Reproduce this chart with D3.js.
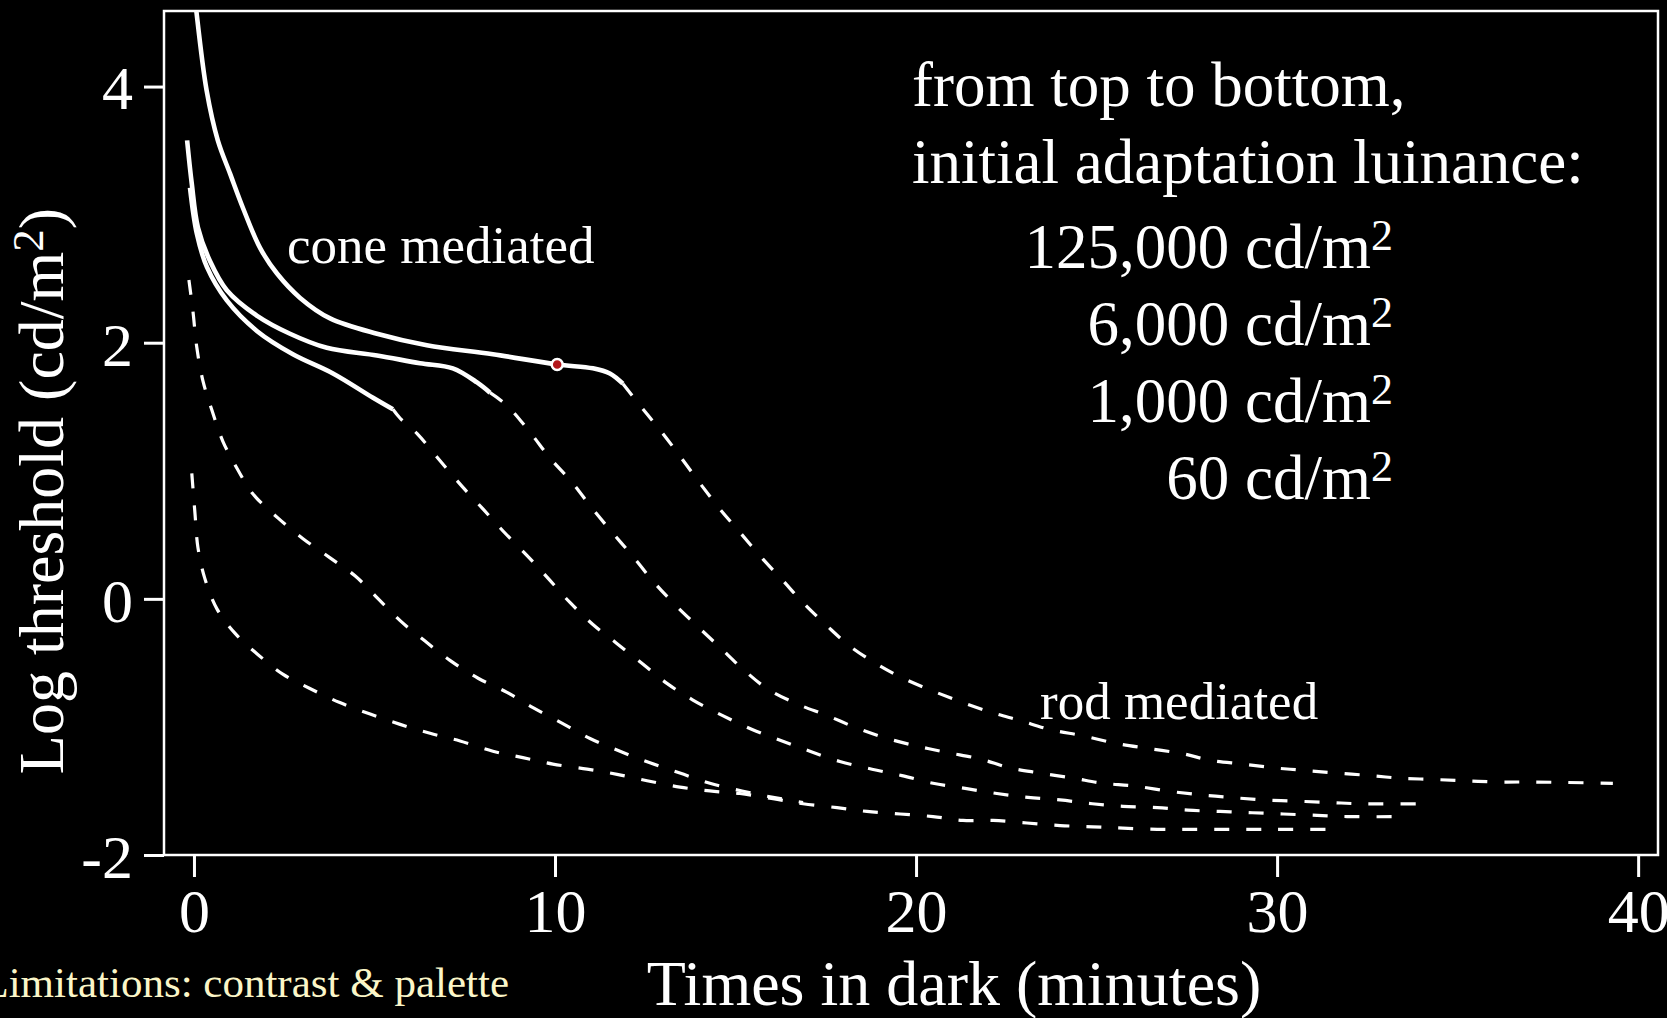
<!DOCTYPE html>
<html><head><meta charset="utf-8">
<script src="https://cdn.jsdelivr.net/npm/d3@7"></script>
<style>html,body{margin:0;padding:0;background:#000;overflow:hidden}</style>
</head><body><svg id="chart" width="1667" height="1018"></svg>
<script>
// ---------- data (time in dark, minutes ; log threshold, cd/m2) ----------
const xTicks = [0, 10, 20, 30, 40];
const yTicks = [-2, 0, 2, 4];
const legendHead = ["from top to bottom,", "initial adaptation luinance:"];
const luminanceLabels = ["125,000", "6,000", "1,000", "60"];

const cone125000 = [[0.02,4.72],[0.07,4.58],[0.35,3.97],[0.66,3.58],[1.0,3.32],[1.36,3.05],[1.83,2.74],[2.30,2.54],[2.94,2.35],[3.77,2.19],[5.07,2.07],[6.45,1.98],[8.28,1.91],[10.06,1.83],[11.05,1.80],[11.52,1.76],[11.88,1.68]];
const rod125000 = [[11.88,1.68],[12.44,1.48],[12.99,1.29],[13.55,1.08],[14.02,0.90],[14.57,0.70],[15.12,0.52],[15.76,0.31],[16.32,0.14],[16.87,-0.03],[17.53,-0.21],[18.17,-0.37],[18.92,-0.51],[19.64,-0.62],[20.47,-0.72],[21.30,-0.81],[22.13,-0.89],[22.88,-0.95],[23.71,-1.02],[24.63,-1.07],[25.57,-1.13],[26.48,-1.17],[27.40,-1.21],[28.14,-1.26],[29.06,-1.29],[29.94,-1.32],[30.78,-1.34],[31.66,-1.36],[32.58,-1.38],[33.41,-1.40],[34.32,-1.41],[35.21,-1.42],[36.09,-1.43],[37.01,-1.43],[39.30,-1.44]];

const cone6000 = [[-0.19,3.58],[-0.06,3.24],[0.11,2.90],[0.44,2.64],[0.91,2.41],[1.75,2.21],[2.66,2.07],[3.68,1.96],[5.07,1.90],[6.26,1.84],[7.17,1.80],[7.84,1.69],[8.20,1.61]];
const rod6000 = [[8.20,1.61],[8.67,1.51],[9.31,1.30],[9.86,1.10],[10.47,0.91],[11.02,0.71],[11.58,0.52],[12.13,0.34],[12.71,0.14],[13.27,-0.03],[13.93,-0.21],[14.57,-0.38],[15.21,-0.55],[15.87,-0.70],[16.70,-0.82],[17.53,-0.91],[18.37,-1.01],[19.20,-1.09],[20.03,-1.15],[20.86,-1.20],[21.77,-1.25],[22.60,-1.32],[23.43,-1.36],[24.35,-1.40],[25.18,-1.44],[26.01,-1.46],[26.95,-1.50],[27.87,-1.53],[28.70,-1.55],[29.61,-1.57],[30.55,-1.58],[31.47,-1.59],[32.30,-1.60],[33.95,-1.60]];

const cone1000 = [[-0.11,3.21],[0.08,2.85],[0.36,2.59],[0.91,2.33],[1.75,2.09],[2.74,1.91],[3.85,1.76],[4.96,1.57],[5.51,1.48]];
const rod1000 = [[5.51,1.48],[5.71,1.41],[6.18,1.29],[6.81,1.08],[7.42,0.88],[8.01,0.70],[8.56,0.53],[9.22,0.34],[9.81,0.16],[10.42,-0.03],[11.05,-0.20],[11.72,-0.35],[12.44,-0.51],[13.10,-0.66],[13.82,-0.79],[14.63,-0.91],[15.46,-1.02],[16.29,-1.11],[17.06,-1.19],[17.89,-1.27],[18.78,-1.33],[19.61,-1.38],[20.47,-1.44],[21.36,-1.48],[22.24,-1.52],[23.10,-1.55],[23.99,-1.57],[24.88,-1.60],[25.73,-1.62],[26.68,-1.63],[27.53,-1.65],[28.42,-1.66],[29.31,-1.67],[30.17,-1.68],[31.11,-1.69],[31.94,-1.70],[33.60,-1.70]];

const rodOnlyUpper = [[-0.14,2.49],[-0.03,2.25],[0.08,1.96],[0.25,1.70],[0.50,1.47],[0.80,1.23],[1.19,1.02],[1.63,0.82],[2.33,0.63],[3.02,0.47],[3.77,0.32],[4.46,0.18],[5.07,0.01],[5.71,-0.17],[6.40,-0.33],[7.09,-0.48],[7.87,-0.62],[8.67,-0.73],[9.39,-0.85],[10.19,-0.97],[10.97,-1.09],[11.80,-1.19],[12.63,-1.28],[13.46,-1.36],[14.29,-1.44],[15.18,-1.50],[16.04,-1.55],[16.87,-1.59]];

const rodOnlyLower = [[-0.06,0.98],[0.03,0.66],[0.11,0.40],[0.30,0.16],[0.64,-0.08],[1.14,-0.27],[1.75,-0.43],[2.47,-0.59],[3.21,-0.70],[4.04,-0.81],[4.88,-0.90],[5.71,-0.98],[6.54,-1.05],[7.37,-1.11],[8.28,-1.19],[9.11,-1.24],[9.94,-1.29],[10.89,-1.33],[11.72,-1.37],[12.55,-1.42],[13.46,-1.47],[14.29,-1.50],[15.12,-1.52],[16.04,-1.56],[16.87,-1.60],[17.81,-1.63],[18.64,-1.66],[19.56,-1.68],[20.47,-1.70],[21.30,-1.73],[22.13,-1.73],[23.07,-1.75],[23.99,-1.77],[24.90,-1.78],[25.73,-1.79],[26.68,-1.80],[27.53,-1.80],[28.42,-1.80],[29.31,-1.80],[30.17,-1.80],[31.40,-1.80]];

const highlightPoint = [[10.06, 1.83]];

// ---------- layout ----------
const svg = d3.select("#chart");
const W = 1667, H = 1018;
const plot = {left: 164, right: 1658, top: 11, bottom: 855};
const serif = "'Liberation Serif','Times New Roman',Times,serif";

svg.append("rect").attr("width", W).attr("height", H).attr("fill", "#000");

const x = d3.scaleLinear().domain([-0.83, 40.55]).range([plot.left, plot.right]);
const y = d3.scaleLinear().domain([-2, 4.59]).range([plot.bottom, plot.top]);

svg.append("defs").append("clipPath").attr("id", "clip")
  .append("rect").attr("x", plot.left).attr("y", plot.top)
  .attr("width", plot.right - plot.left).attr("height", plot.bottom - plot.top);

// axes
const plain = d => String(d);
const yAxis = d3.axisLeft(y).tickValues(yTicks).tickSize(20).tickSizeOuter(0).tickPadding(11).tickFormat(plain);
const gy = svg.append("g").attr("transform", `translate(${plot.left},0)`).call(yAxis);
const xAxis = d3.axisBottom(x).tickValues(xTicks).tickSize(22).tickSizeOuter(0).tickPadding(8).tickFormat(plain);
const gx = svg.append("g").attr("transform", `translate(0,${plot.bottom})`).call(xAxis);
[gx, gy].forEach(g => {
  g.select(".domain").remove();
  g.selectAll(".tick line").attr("stroke", "#fff").attr("stroke-width", 3);
  g.selectAll(".tick text").attr("fill", "#fff").attr("font-family", serif).attr("font-size", 62);
});
gy.selectAll(".tick text").attr("dy", "0.36em");
gx.selectAll(".tick text").attr("dy", "0.76em");

// frame
svg.append("rect").attr("x", plot.left).attr("y", plot.top)
  .attr("width", plot.right - plot.left).attr("height", plot.bottom - plot.top)
  .attr("fill", "none").attr("stroke", "#fff").attr("stroke-width", 2.5);

// curves
const line = d3.line().x(d => x(d[0])).y(d => y(d[1])).curve(d3.curveCatmullRom.alpha(0.5));
const g = svg.append("g").attr("clip-path", "url(#clip)");
const coneSeries = [cone125000, cone6000, cone1000];
const rodSeries = [rod125000, rod6000, rod1000, rodOnlyUpper, rodOnlyLower];

g.selectAll("path.rod").data(rodSeries).join("path").attr("class", "rod")
  .attr("d", line).attr("fill", "none").attr("stroke", "#fff")
  .attr("stroke-width", 3.2).attr("stroke-dasharray", "15,17");
g.selectAll("path.cone").data(coneSeries).join("path").attr("class", "cone")
  .attr("d", line).attr("fill", "none").attr("stroke", "#fff")
  .attr("stroke-width", 4.6).attr("stroke-linejoin", "round");

g.selectAll("circle.hl").data(highlightPoint).join("circle").attr("class", "hl")
  .attr("cx", d => x(d[0])).attr("cy", d => y(d[1])).attr("r", 5.5)
  .attr("fill", "#b3171b").attr("stroke", "#fff").attr("stroke-width", 2.5);

// annotations
const txt = (s, px, py, size, anchor, fill) => svg.append("text").attr("x", px).attr("y", py)
  .attr("font-family", serif).attr("font-size", size).attr("fill", fill || "#fff")
  .attr("text-anchor", anchor || "start").text(s);

txt("cone mediated", 287, 263, 53);
txt("rod mediated", 1040, 719, 53);

legendHead.forEach((s, i) => txt(s, 912, 106 + i * 77, 63));
luminanceLabels.forEach((s, i) => {
  const t = svg.append("text").attr("x", 1393).attr("y", 268 + i * 77)
    .attr("font-family", serif).attr("font-size", 63).attr("fill", "#fff").attr("text-anchor", "end");
  t.append("tspan").text(s + " cd/m");
  t.append("tspan").attr("font-size", 44).attr("dy", -18).text("2");
});

// axis titles
const yt = svg.append("text").attr("transform", "translate(63,491) rotate(-90)")
  .attr("font-family", serif).attr("font-size", 64).attr("fill", "#fff").attr("text-anchor", "middle");
yt.append("tspan").text("Log threshold (cd/m");
yt.append("tspan").attr("font-size", 45).attr("dy", -20).text("2");
yt.append("tspan").attr("dy", 20).text(")");

txt("Times in dark (minutes)", 954, 1005, 64, "middle");
txt("Limitations: contrast & palette", 509, 997, 43, "end", "#fbf6c8");
</script>
</body></html>
